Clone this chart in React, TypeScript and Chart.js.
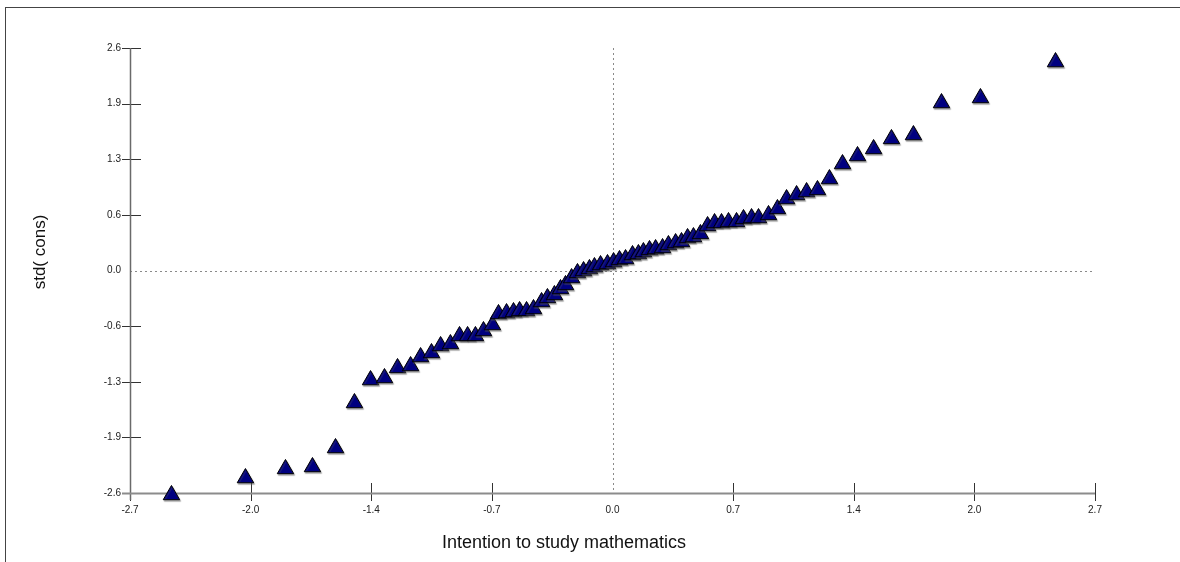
import React, { useEffect, useRef } from "react";
import { Chart, registerables } from "chart.js";

Chart.register(...registerables);

// Axis ticks (evenly spaced values, labels as printed in the source chart)
const X_TICK_VALUES = [-2.7, -2.025, -1.35, -0.675, 0, 0.675, 1.35, 2.025, 2.7];
const X_TICK_LABELS = ["-2.7", "-2.0", "-1.4", "-0.7", "0.0", "0.7", "1.4", "2.0", "2.7"];
const Y_TICK_VALUES = [-2.6, -1.95, -1.3, -0.65, 0, 0.65, 1.3, 1.95, 2.6];
const Y_TICK_LABELS = ["-2.6", "-1.9", "-1.3", "-0.6", "0.0", "0.6", "1.3", "1.9", "2.6"];

const X_TITLE = "Intention to study mathematics";
const Y_TITLE = "std( cons)";

// Series values
const X_VALUES = [
  -2.468, -2.054, -1.83, -1.679, -1.55, -1.444, -1.354, -1.276, -1.203, -1.13,
  -1.074, -1.013, -0.962, -0.907, -0.856, -0.811, -0.767, -0.722, -0.672, -0.638,
  -0.593, -0.554, -0.52, -0.481, -0.442, -0.397, -0.364, -0.325, -0.291, -0.263,
  -0.229, -0.196, -0.162, -0.129, -0.101, -0.067, -0.028, 0.006, 0.039, 0.073,
  0.112, 0.145, 0.173, 0.207, 0.241, 0.28, 0.313, 0.353, 0.386, 0.42,
  0.453, 0.492, 0.532, 0.571, 0.61, 0.649, 0.694, 0.733, 0.778, 0.817,
  0.873, 0.923, 0.974, 1.03, 1.086, 1.147, 1.214, 1.287, 1.371, 1.461,
  1.561, 1.684, 1.841, 2.059, 2.479,
];
const Y_VALUES = [
  -2.623, -2.425, -2.319, -2.296, -2.074, -1.548, -1.28, -1.256, -1.139, -1.116,
  -1.011, -0.964, -0.882, -0.859, -0.765, -0.765, -0.765, -0.707, -0.637, -0.508,
  -0.497, -0.485, -0.473, -0.473, -0.45, -0.368, -0.321, -0.286, -0.216, -0.169,
  -0.088, -0.029, -0.006, 0.018, 0.041, 0.064, 0.076, 0.099, 0.123, 0.134,
  0.181, 0.193, 0.216, 0.24, 0.251, 0.263, 0.298, 0.321, 0.333, 0.38,
  0.391, 0.427, 0.52, 0.555, 0.555, 0.567, 0.567, 0.602, 0.613, 0.613,
  0.649, 0.719, 0.835, 0.882, 0.917, 0.941, 1.069, 1.244, 1.338, 1.42,
  1.537, 1.583, 1.957, 2.016, 2.436,
];

const FONT = "'Liberation Sans', Arial, sans-serif";

const axesPlugin = {
  id: "customAxes",
  beforeDatasetsDraw(chart: any) {
    const { ctx, chartArea: a, scales } = chart;
    const x = scales.x;
    const y = scales.y;
    const line = (x1: number, y1: number, x2: number, y2: number) => {
      ctx.beginPath();
      ctx.moveTo(x1, y1);
      ctx.lineTo(x2, y2);
      ctx.stroke();
    };
    ctx.save();
    // dotted zero lines
    ctx.strokeStyle = "#8a8a8a";
    ctx.lineWidth = 1;
    ctx.setLineDash([2, 3]);
    const x0 = Math.round(x.getPixelForValue(0)) + 0.5;
    const y0 = Math.round(y.getPixelForValue(0)) + 0.5;
    line(a.left, y0, a.right, y0);
    line(x0, a.top, x0, a.bottom);
    ctx.setLineDash([]);

    // tick marks
    ctx.strokeStyle = "#333";
    ctx.lineWidth = 1;
    Y_TICK_VALUES.forEach((v) => {
      if (v === 0) return;
      const py = Math.round(y.getPixelForValue(v)) + 0.5;
      line(a.left - 8, py, a.left + 11, py);
    });
    X_TICK_VALUES.forEach((v) => {
      if (v === 0) return;
      const px = Math.round(x.getPixelForValue(v)) + 0.5;
      line(px, a.bottom - 10, px, a.bottom + 8);
    });

    // axis lines
    ctx.strokeStyle = "#6a6a6a";
    ctx.lineWidth = 1.5;
    line(a.left + 0.5, a.top, a.left + 0.5, a.bottom + 7);
    ctx.strokeStyle = "#8c8c8c";
    ctx.lineWidth = 2;
    line(a.left - 8, a.bottom + 0.5, a.right, a.bottom + 0.5);
    ctx.restore();
  },
  beforeDatasetDraw(chart: any) {
    const ctx = chart.ctx;
    ctx.save();
    ctx.shadowColor = "rgba(90,90,90,0.45)";
    ctx.shadowOffsetX = 1;
    ctx.shadowOffsetY = 1.5;
    ctx.shadowBlur = 1;
  },
  afterDatasetDraw(chart: any) {
    chart.ctx.restore();
  },
  afterDraw(chart: any) {
    const { ctx } = chart;
    ctx.save();
    ctx.fillStyle = "#111";
    ctx.textAlign = "center";
    ctx.textBaseline = "middle";
    ctx.font = `18px ${FONT}`;
    ctx.fillText(X_TITLE, 564, 543);
    ctx.font = `17px ${FONT}`;
    ctx.translate(40, 252);
    ctx.rotate(-Math.PI / 2);
    ctx.fillText(Y_TITLE, 0, 0);
    ctx.restore();
  },
};

export default function App() {
  const canvasRef = useRef<HTMLCanvasElement | null>(null);

  useEffect(() => {
    if (!canvasRef.current) return;
    const points = X_VALUES.map((v, i) => ({ x: v, y: Y_VALUES[i] }));
    const chart = new Chart(canvasRef.current, {
      type: "scatter",
      data: {
        datasets: [
          {
            data: points,
            pointStyle: "triangle",
            pointRadius: 9.5,
            pointBackgroundColor: "#000080",
            pointBorderColor: "#000000",
            pointBorderWidth: 1,
            clip: false as any,
          },
        ],
      },
      options: {
        responsive: false,
        animation: false,
        events: [],
        layout: { padding: { left: 0, top: 48, right: 85, bottom: 0 } },
        plugins: {
          legend: { display: false },
          tooltip: { enabled: false },
          title: { display: false },
        },
        scales: {
          x: {
            type: "linear",
            min: -2.7,
            max: 2.7,
            border: { display: false },
            grid: { display: false, drawTicks: false },
            afterBuildTicks: (scale: any) => {
              scale.ticks = X_TICK_VALUES.map((v) => ({ value: v }));
            },
            afterFit: (scale: any) => {
              scale.height = 69;
            },
            ticks: {
              autoSkip: false,
              maxRotation: 0,
              padding: 11,
              color: "#222",
              font: { family: FONT, size: 10 },
              callback: (_v: any, i: number) => X_TICK_LABELS[i],
            },
          },
          y: {
            type: "linear",
            min: -2.6,
            max: 2.6,
            border: { display: false },
            grid: { display: false, drawTicks: false },
            afterBuildTicks: (scale: any) => {
              scale.ticks = Y_TICK_VALUES.map((v) => ({ value: v }));
            },
            afterFit: (scale: any) => {
              scale.width = 130;
            },
            ticks: {
              autoSkip: false,
              padding: 9,
              color: "#222",
              font: { family: FONT, size: 10 },
              callback: (_v: any, i: number) => Y_TICK_LABELS[i],
            },
          },
        },
      },
      plugins: [axesPlugin],
    });
    return () => chart.destroy();
  }, []);

  return (
    <div style={{ position: "fixed", left: 0, top: 0, width: 1180, height: 562, background: "#fff", overflow: "hidden" }}>
      <div
        style={{
          position: "absolute",
          left: 5,
          top: 7,
          width: 1200,
          height: 600,
          borderLeft: "1px solid #444",
          borderTop: "1px solid #444",
        }}
      />
      <canvas ref={canvasRef} width={1180} height={562} style={{ position: "absolute", left: 0, top: 0 }} />
    </div>
  );
}
